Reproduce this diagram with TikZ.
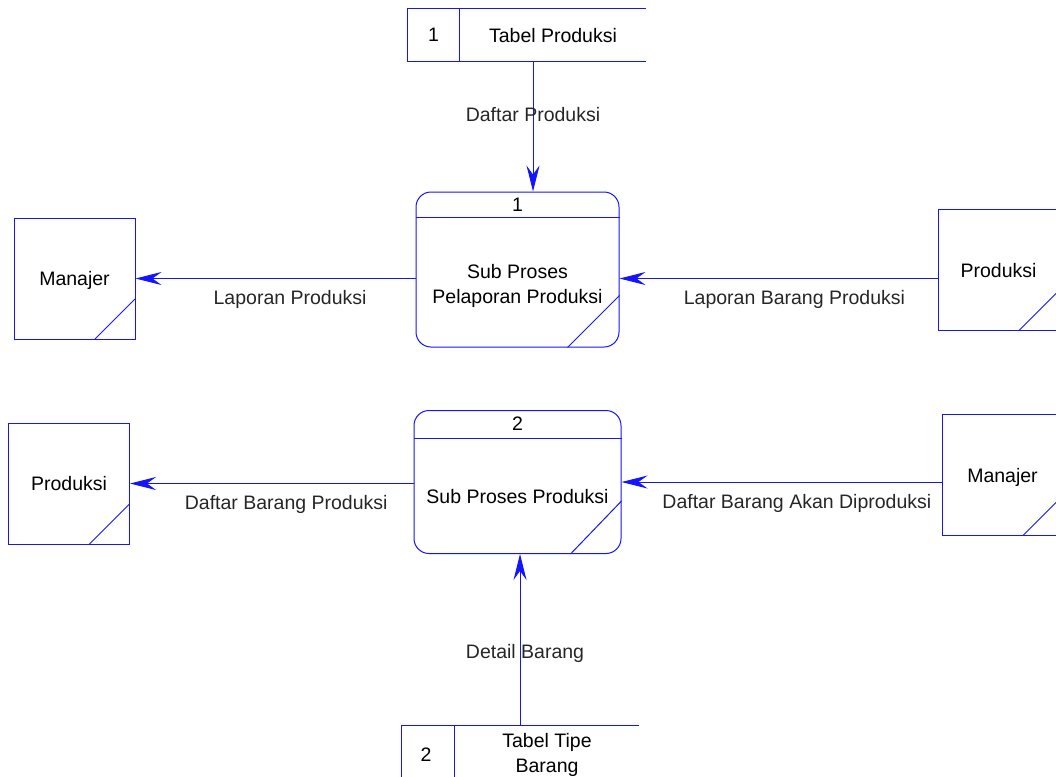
\documentclass[tikz,border=0pt]{standalone}
\usepackage{fontspec}
\setmainfont{Liberation Sans}
\usetikzlibrary{arrows.meta,positioning}
\definecolor{dfdblue}{RGB}{20,20,255}

\begin{document}
\begin{tikzpicture}[x=1pt,y=-1pt,font=\fontsize{19.5}{25}\selectfont,line width=1pt,
    ent/.style={rectangle,draw=dfdblue,minimum width=121pt,minimum height=121pt,inner sep=0pt,text depth=-3pt,
        path picture={\draw[dfdblue] ([xshift=-40pt]path picture bounding box.south east) -- ([yshift=40pt]path picture bounding box.south east);}},
    proc/.style={rectangle,rounded corners=15pt,draw=dfdblue,inner sep=0pt},
    store/.style={rectangle,inner sep=0pt,minimum height=52pt},
    flow/.style={dfdblue,-{Stealth[length=26pt,width=13pt,inset=9pt]}},
    lbl/.style={inner sep=0pt,text=black!85}]
        \useasboundingbox (0,0) rectangle (1056,776);
        % data stores
        \node[store,minimum width=237pt] (s1) at (526.5,35) {};
        \draw[dfdblue] (s1.north east) -- (s1.north west) -- (s1.south west) -- (s1.south east);
        \draw[dfdblue] ([xshift=52pt]s1.north west) -- ([xshift=52pt]s1.south west);
        \node (s1n) at ([xshift=26pt]s1.west) {1};
        \node (s1t) at (553,36) {Tabel Produksi};
        \node[store,minimum width=236pt,minimum height=56pt] (s2) at (520,754) {};
        \draw[dfdblue] (s2.north east) -- (s2.north west) -- (s2.south west) -- (s2.south east);
        \draw[dfdblue] ([xshift=53pt]s2.north west) -- ([xshift=53pt]s2.south west);
        \node (s2n) at (426,755) {2};
        \node[align=center] (s2t) at (547,755) {Tabel Tipe\\Barang};
        % processes
        \node[proc,minimum width=203pt,minimum height=155pt] (p1) at (517.5,269.5) {};
        \draw[dfdblue] ([yshift=-26pt]p1.north west) -- ([yshift=-26pt]p1.north east);
        \node (p1n) at ([yshift=-13pt]p1.north) {1};
        \node[align=center] (p1t) at ([yshift=-16pt]p1.center) {Sub Proses\\Pelaporan Produksi};
        \draw[dfdblue] ([xshift=-52pt]p1.south east) -- ([yshift=52pt]p1.south east);
        \node[proc,minimum width=207pt,minimum height=143pt] (p2) at (517.5,482) {};
        \draw[dfdblue] ([yshift=-28pt]p2.north west) -- ([yshift=-28pt]p2.north east);
        \node (p2n) at ([yshift=-14pt]p2.north) {2};
        \node (p2t) at ([yshift=-15pt]p2.center) {Sub Proses Produksi};
        \draw[dfdblue] ([xshift=-51pt]p2.south east) -- ([yshift=53pt]p2.south east);
        % external entities
        \node[ent] (man1) at (74.5,278.5) {Manajer};
        \node[ent] (prod1) at (998.5,270) {Produksi};
        \node[ent] (prod2) at (69,483.5) {Produksi};
        \node[ent] (man2) at (1002.5,475) {Manajer};
        % flows
        \draw[flow] ([xshift=6.5pt]s1.south) -- ([xshift=6.5pt]s1.south |- p1.north)
            node[lbl,pos=0.41] {Daftar Produksi};
        \draw[flow] (p1.west |- man1.east) -- (man1.east)
            node[lbl,pos=0.448,yshift=-21pt] {Laporan Produksi};
        \draw[flow] (prod1.west |- man1.east) -- (p1.east |- man1.east)
            node[lbl,pos=0.45,yshift=-21pt] {Laporan Barang Produksi};
        \draw[flow] (p2.west |- prod2.east) -- (prod2.east)
            node[lbl,pos=0.449,yshift=-21pt] {Daftar Barang Produksi};
        \draw[flow] (man2.west |- p2.east) -- (p2.east)
            node[lbl,pos=0.452,yshift=-21pt] {Daftar Barang Akan Diproduksi};
        \draw[flow] (s2.north) -- (s2.north |- p2.south)
            node[lbl,pos=0.42,xshift=5pt] {Detail Barang};
    \end{tikzpicture}
\end{document}
